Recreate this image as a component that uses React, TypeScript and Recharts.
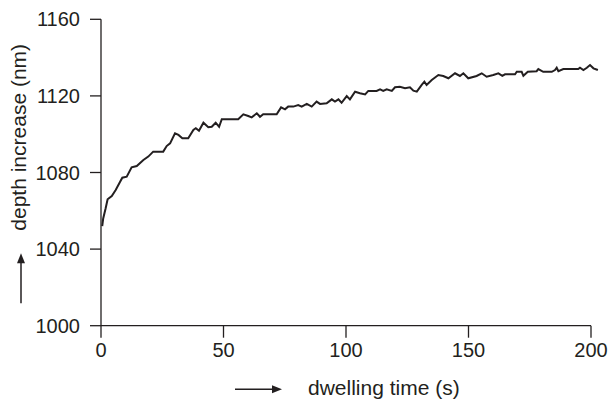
import React from "react";
import { LineChart, Line, XAxis, YAxis, ReferenceLine } from "recharts";

const timeS = [
  0.5, 0.9, 1.9, 2.7, 4.4, 6.0, 7.8, 8.7, 10.5, 12.5, 14.6, 17.3, 19.3, 21.3, 25.4, 26.8, 28.2,
  30.2, 31.6, 33.2, 35.6, 37.7, 38.7, 40.0, 41.8, 43.8, 45.2, 46.8, 48.2, 49.3, 56.0, 58.1,
  60.1, 61.5, 63.6, 64.9, 66.2, 71.7, 73.5, 75.1, 76.4, 78.5, 80.5, 81.9, 84.0, 86.0, 88.0,
  89.4, 92.1, 94.2, 95.5, 96.9, 98.2, 100.3, 101.6, 103.7, 105.7, 107.8, 109.1, 112.5, 113.9,
  115.2, 116.6, 118.7, 120.0, 122.0, 124.1, 126.1, 127.5, 128.9, 130.9, 132.0, 132.9, 135.0,
  137.7, 139.7, 141.8, 144.5, 146.5, 147.9, 149.9, 153.3, 155.4, 157.4, 160.1, 162.2, 163.8,
  164.9, 169.0, 169.7, 171.7, 172.4, 174.2, 177.8, 178.5, 180.5, 184.0, 185.3, 186.0, 186.7,
  188.7, 194.8, 195.5, 196.9, 198.3, 199.6, 201.0, 202.8,
];

const depthNm = [
  1052, 1056, 1061.3, 1066, 1067.7, 1070.9, 1075.2, 1077.3, 1077.8, 1082.7, 1083.4, 1086.5,
  1088.3, 1090.9, 1090.9, 1093.8, 1095.2, 1100.5, 1099.6, 1097.9, 1097.9, 1102.2, 1103.1,
  1101.8, 1106, 1103.6, 1103.9, 1106, 1103.9, 1107.8, 1107.8, 1110.4, 1109.5, 1108.8, 1110.9,
  1109.1, 1110.4, 1110.4, 1114, 1113, 1114.4, 1114.4, 1115.2, 1114.4, 1115.8, 1114.4, 1117,
  1115.8, 1116.1, 1118.2, 1117, 1118.2, 1116.4, 1119.9, 1118.2, 1122.2, 1121.4, 1120.8, 1122.6,
  1122.6, 1123.4, 1122.6, 1123.4, 1122.6, 1124.5, 1124.8, 1124, 1124.5, 1122.7, 1122.2, 1125.7,
  1127.4, 1125.7, 1128.3, 1130.9, 1130.4, 1129.2, 1131.8, 1130.4, 1131.8, 1129.2, 1130.4,
  1131.8, 1130, 1130.9, 1131.8, 1130.5, 1131.3, 1131.3, 1132.6, 1132.6, 1130.5, 1132.6, 1132.9,
  1134, 1132.6, 1132.6, 1133.5, 1134.7, 1132.9, 1134, 1134, 1134.7, 1133.5, 1134.7, 1136.1,
  1134.4, 1133.5,
];

const xTicks = [0, 50, 100, 150, 200];
const yTicks = [1000, 1040, 1080, 1120, 1160];
const xLabel = "dwelling time (s)";
const yLabel = "depth increase (nm)";

const data = timeS.map((t, i) => ({ t, d: depthNm[i] }));

const FONT = "'Liberation Sans', Arial, Helvetica, sans-serif";
const INK = "#231f20";

const renderYLabel = (props: any) => {
  const vb = props.viewBox || { x: 0, y: 19.3 };
  const ax = vb.x + 21;
  const top = vb.y + 234;
  const bottom = vb.y + 284;
  return (
    <g>
      <text
        x={vb.x + 25.6}
        y={vb.y + 118}
        transform={`rotate(-90, ${vb.x + 25.6}, ${vb.y + 118})`}
        textAnchor="middle"
        fontFamily={FONT}
        fontSize={21}
        fill={INK}
      >
        {yLabel}
      </text>
      <line x1={ax} y1={bottom} x2={ax} y2={top + 9} stroke={INK} strokeWidth={1.5} />
      <polygon points={`${ax},${top} ${ax - 4},${top + 10} ${ax + 4},${top + 10}`} fill={INK} />
    </g>
  );
};

const renderXLabel = (props: any) => {
  const vb = props.viewBox || { x: 101, y: 325.7 };
  const ay = vb.y + 63.6;
  const left = vb.x + 134;
  const right = vb.x + 181;
  return (
    <g>
      <text
        x={vb.x + 207}
        y={vb.y + 69.3}
        textAnchor="start"
        fontFamily={FONT}
        fontSize={21}
        fill={INK}
      >
        {xLabel}
      </text>
      <line x1={left} y1={ay} x2={right - 9} y2={ay} stroke={INK} strokeWidth={1.5} />
      <polygon points={`${right},${ay} ${right - 10},${ay - 4} ${right - 10},${ay + 4}`} fill={INK} />
    </g>
  );
};

export default function App() {
  return (
    <div style={{ position: "absolute", left: 0, top: 0, background: "#fff" }}>
      <LineChart
        width={613}
        height={401}
        data={data}
        margin={{ top: 19.3, right: 14.65, bottom: 5.3, left: 0 }}
      >
        <XAxis
          dataKey="t"
          type="number"
          domain={[0, 203]}
          ticks={xTicks}
          axisLine={false}
          tickLine={{ stroke: INK, strokeWidth: 1.3 }}
          tickSize={12}
          tickMargin={5}
          height={70}
          tick={{ fill: INK, fontSize: 20, fontFamily: FONT }}
          label={renderXLabel}
        />
        <YAxis
          type="number"
          domain={[1000, 1160]}
          ticks={yTicks}
          width={101}
          axisLine={{ stroke: INK, strokeWidth: 1.3 }}
          tickLine={{ stroke: INK, strokeWidth: 1.3 }}
          tickSize={11}
          tickMargin={10}
          tick={{ fill: INK, fontSize: 20, fontFamily: FONT }}
          label={renderYLabel}
        />
        <ReferenceLine
          segment={[
            { x: 0, y: 1000 },
            { x: 200, y: 1000 },
          ]}
          stroke={INK}
          strokeWidth={1.3}
        />
        <Line
          type="linear"
          dataKey="d"
          stroke={INK}
          strokeWidth={2}
          dot={false}
          isAnimationActive={false}
        />
      </LineChart>
    </div>
  );
}
